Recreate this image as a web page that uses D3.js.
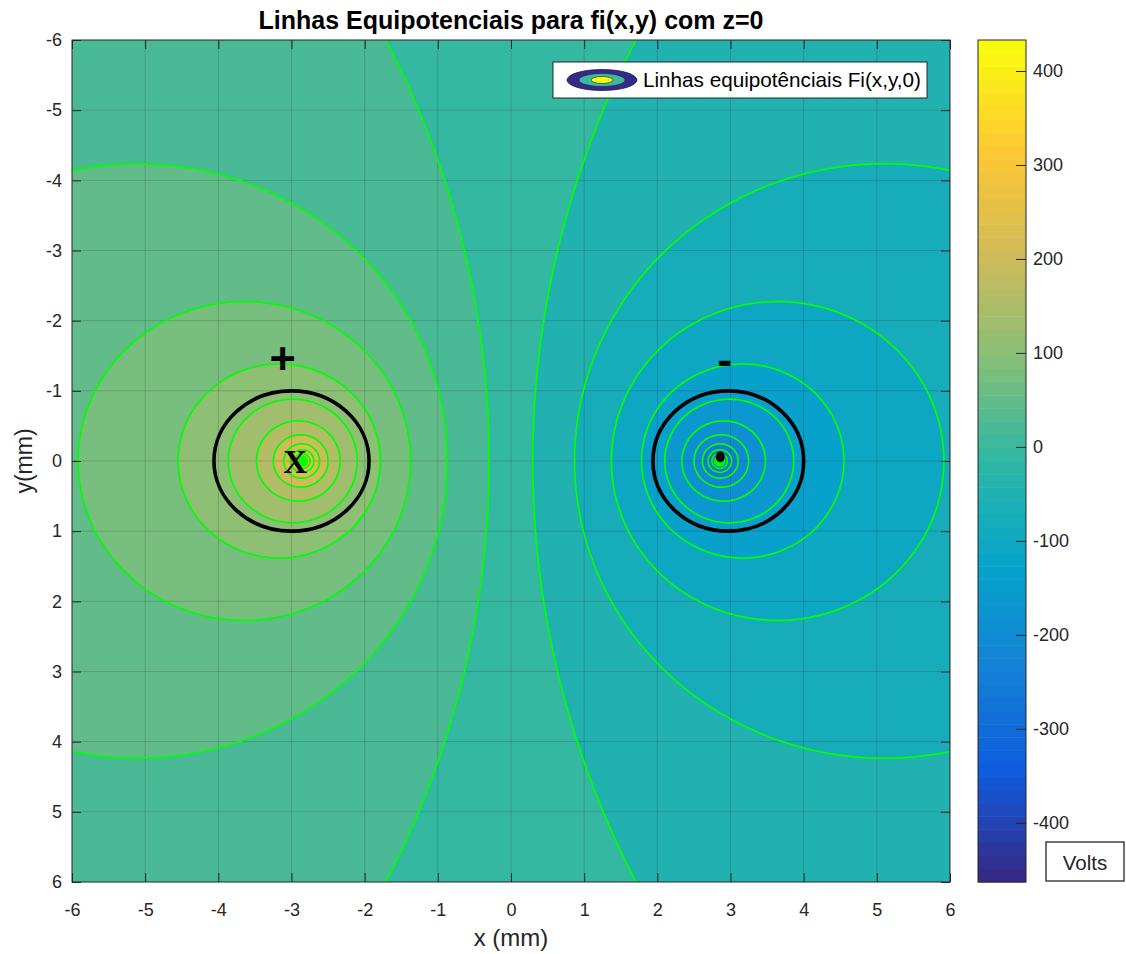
<!DOCTYPE html>
<html>
<head>
<meta charset="utf-8">
<script src="https://cdnjs.cloudflare.com/ajax/libs/d3/7.8.5/d3.min.js"></script>
<style>
body { margin: 0; background: #fff; }
text { font-family: "Liberation Sans", Arial, Helvetica, sans-serif; }
</style>
</head>
<body>
<div class="container"></div>
<script>
let width = 1126;
let height = 954;

// values
const charges = [
    {x: -2.85, y: 0, q: 1},
    {x: 2.85, y: 0, q: -1}
];
const voltsPerLn = 71.4;
const levels = [-435, -405, -375, -345, -315, -285, -255, -225, -195, -165, -135, -105, -75, -45, -15,
    15, 45, 75, 105, 135, 165, 195, 225, 255, 285, 315, 345, 375, 405];
const colorLimits = [-463, 433];
const xTicks = [-6, -5, -4, -3, -2, -1, 0, 1, 2, 3, 4, 5, 6];
const yTicks = [-6, -5, -4, -3, -2, -1, 0, 1, 2, 3, 4, 5, 6];
const cbTicks = [-400, -300, -200, -100, 0, 100, 200, 300, 400];
const rings = [{x: -3, y: 0, rx: 1.06, ry: 1}, {x: 2.97, y: 0, rx: 1.03, ry: 1}];
const signs = [{text: '+', x: -3.12, y: -1.45}, {text: '-', x: 2.92, y: -1.44}];
const xMarks = [{text: 'X', x: -2.95, y: 0.02}];
const chargeDots = [{x: 2.86, y: -0.06}];
const parulaStops = ['#352a87', '#0f5cdd', '#1481d6', '#06a4ca', '#2eb7a4',
    '#87bf77', '#d1bb59', '#fec832', '#f9fb0e'];

const svg = d3.select('.container')
    .append('svg')
    .attr('width', width)
    .attr('height', height);

let plot = {left: 72, right: 950, top: 40, bottom: 882};

let x = d3.scaleLinear().domain([-6, 6]).range([plot.left, plot.right]);
let y = d3.scaleLinear().domain([-6, 6]).range([plot.top, plot.bottom]);

//64 step colormap like matlab
let ramp = d3.piecewise(d3.interpolateRgb, parulaStops);
let colors = d3.range(64).map(i => ramp(i / 63));
let color = d3.scaleQuantize().domain(colorLimits).range(colors);

//potential on a grid a bit larger than the axes
let step = 0.016;
let gMin = -6.3;
let n = Math.round(12.6 / step) + 1;
let values = new Float64Array(n * n);
for (let j = 0; j < n; j++) {
    let gy = gMin + j * step;
    for (let i = 0; i < n; i++) {
        let gx = gMin + i * step;
        let v = 0;
        charges.forEach(c => {
            let r = Math.max(Math.hypot(gx - c.x, gy - c.y), 0.004);
            v += -c.q * voltsPerLn * Math.log(r);
        });
        values[j * n + i] = Math.max(colorLimits[0], Math.min(colorLimits[1], v));
    }
}

let contours = d3.contours().size([n, n]).thresholds(levels)(values);

let gridPath = d3.geoPath(d3.geoTransform({
    point: function(px, py) {
        this.stream.point(x(gMin + (px - 0.5) * step), y(gMin + (py - 0.5) * step));
    }
}));

svg.append('clipPath').attr('id', 'plotclip')
    .append('rect')
    .attr('x', plot.left).attr('y', plot.top)
    .attr('width', plot.right - plot.left).attr('height', plot.bottom - plot.top);

let g = svg.append('g').attr('clip-path', 'url(#plotclip)');

g.append('rect')
    .attr('x', plot.left).attr('y', plot.top)
    .attr('width', plot.right - plot.left).attr('height', plot.bottom - plot.top)
    .attr('fill', color(colorLimits[0]));

g.selectAll('path.band')
    .data(contours)
    .enter()
    .append('path')
    .attr('class', 'band')
    .attr('d', gridPath)
    .attr('fill', d => color(d.value))
    .attr('stroke', 'none');

//grid
g.selectAll('line.gx')
    .data(xTicks.slice(1, -1))
    .enter()
    .append('line')
    .attr('x1', d => x(d)).attr('x2', d => x(d))
    .attr('y1', plot.top).attr('y2', plot.bottom)
    .attr('stroke', '#262626').attr('stroke-opacity', 0.2);
g.selectAll('line.gy')
    .data(yTicks.slice(1, -1))
    .enter()
    .append('line')
    .attr('y1', d => y(d)).attr('y2', d => y(d))
    .attr('x1', plot.left).attr('x2', plot.right)
    .attr('stroke', '#262626').attr('stroke-opacity', 0.2);

//equipotential lines
g.selectAll('path.line')
    .data(contours)
    .enter()
    .append('path')
    .attr('class', 'line')
    .attr('d', gridPath)
    .attr('fill', 'none')
    .attr('stroke', '#00ff00')
    .attr('stroke-width', 1.7);

g.selectAll('ellipse.ring')
    .data(rings)
    .enter()
    .append('ellipse')
    .attr('cx', d => x(d.x)).attr('cy', d => y(d.y))
    .attr('rx', d => x(d.rx) - x(0)).attr('ry', d => y(d.ry) - y(0))
    .attr('fill', 'none')
    .attr('stroke', '#000')
    .attr('stroke-width', 3.6);

g.selectAll('ellipse.dot')
    .data(chargeDots)
    .enter()
    .append('ellipse')
    .attr('cx', d => x(d.x)).attr('cy', d => y(d.y))
    .attr('rx', 4.5).attr('ry', 5.5)
    .attr('fill', '#000');

g.selectAll('text.sign')
    .data(signs)
    .enter()
    .append('text')
    .attr('x', d => x(d.x)).attr('y', d => y(d.y))
    .attr('dy', '0.33em')
    .attr('text-anchor', 'middle')
    .style('font-size', '45px')
    .style('font-weight', 'bold')
    .text(d => d.text);

g.selectAll('text.mark')
    .data(xMarks)
    .enter()
    .append('text')
    .attr('x', d => x(d.x)).attr('y', d => y(d.y))
    .attr('dy', '0.33em')
    .attr('text-anchor', 'middle')
    .style('font-family', '"Liberation Serif", "Times New Roman", serif')
    .style('font-size', '33px')
    .style('font-weight', 'bold')
    .text(d => d.text);

//axes, ticks inward on all sides
let tickFmt = d => String(d);

function styleAxis(sel) {
    sel.select('.domain').remove();
    sel.selectAll('.tick line').attr('stroke', '#262626');
    sel.selectAll('.tick text')
        .attr('fill', '#262626')
        .style('font-size', '18px')
        .style('font-family', '"Liberation Sans", Arial, sans-serif');
}

svg.append('g')
    .attr('transform', 'translate(0,' + plot.bottom + ')')
    .call(d3.axisBottom(x).tickValues(xTicks).tickFormat(tickFmt).tickSizeInner(-9).tickSizeOuter(0).tickPadding(21))
    .call(styleAxis);
svg.append('g')
    .attr('transform', 'translate(0,' + plot.top + ')')
    .call(d3.axisTop(x).tickValues(xTicks).tickSizeInner(-9).tickSizeOuter(0).tickFormat(''))
    .call(styleAxis);
svg.append('g')
    .attr('transform', 'translate(' + plot.left + ',0)')
    .call(d3.axisLeft(y).tickValues(yTicks).tickFormat(tickFmt).tickSizeInner(-9).tickSizeOuter(0).tickPadding(10))
    .call(styleAxis);
svg.append('g')
    .attr('transform', 'translate(' + plot.right + ',0)')
    .call(d3.axisRight(y).tickValues(yTicks).tickSizeInner(-9).tickSizeOuter(0).tickFormat(''))
    .call(styleAxis);

svg.append('rect')
    .attr('x', plot.left).attr('y', plot.top)
    .attr('width', plot.right - plot.left).attr('height', plot.bottom - plot.top)
    .attr('fill', 'none')
    .attr('stroke', '#262626');

//title and labels
svg.append('text')
    .attr('x', (plot.left + plot.right) / 2).attr('y', 29)
    .attr('text-anchor', 'middle')
    .style('font-size', '25px')
    .style('font-weight', 'bold')
    .text('Linhas Equipotenciais para fi(x,y) com z=0');

svg.append('text')
    .attr('x', (plot.left + plot.right) / 2).attr('y', 946)
    .attr('text-anchor', 'middle')
    .attr('fill', '#262626')
    .style('font-size', '24px')
    .text('x (mm)');

svg.append('text')
    .attr('transform', 'translate(32,' + (plot.top + plot.bottom) / 2 + ') rotate(-90)')
    .attr('text-anchor', 'middle')
    .attr('fill', '#262626')
    .style('font-size', '23px')
    .text('y(mm)');

//legend
let legend = svg.append('g');
legend.append('rect')
    .attr('x', 553).attr('y', 62).attr('width', 374).attr('height', 36)
    .attr('fill', '#fff').attr('stroke', '#262626');
legend.append('ellipse').attr('cx', 602).attr('cy', 80).attr('rx', 35).attr('ry', 10.5)
    .attr('fill', colors[0]).attr('stroke', '#1c1c50').attr('stroke-width', 0.8);
legend.append('ellipse').attr('cx', 602).attr('cy', 80).attr('rx', 23).attr('ry', 6.5)
    .attr('fill', color(0)).attr('stroke', '#1c1c50').attr('stroke-width', 0.6);
legend.append('ellipse').attr('cx', 602).attr('cy', 80).attr('rx', 11).attr('ry', 3.5)
    .attr('fill', colors[63]).attr('stroke', '#1c1c50').attr('stroke-width', 0.6);
legend.append('text')
    .attr('x', 643).attr('y', 87)
    .style('font-size', '20.7px')
    .text('Linhas equipotênciais Fi(x,y,0)');

//colorbar
let cb = {left: 978, right: 1026};
let cbY = d3.scaleLinear().domain(colorLimits).range([plot.bottom, plot.top]);
let cbStep = (colorLimits[1] - colorLimits[0]) / colors.length;

svg.append('g').selectAll('rect')
    .data(colors)
    .enter()
    .append('rect')
    .attr('x', cb.left)
    .attr('width', cb.right - cb.left)
    .attr('y', (d, i) => cbY(colorLimits[0] + (i + 1) * cbStep))
    .attr('height', cbY(colorLimits[0]) - cbY(colorLimits[0] + cbStep) + 0.5)
    .attr('fill', d => d);

svg.append('g')
    .attr('transform', 'translate(' + cb.right + ',0)')
    .call(d3.axisRight(cbY).tickValues(cbTicks).tickFormat(tickFmt).tickSizeInner(-10).tickSizeOuter(0).tickPadding(7))
    .call(styleAxis);

svg.append('rect')
    .attr('x', cb.left).attr('y', plot.top)
    .attr('width', cb.right - cb.left).attr('height', plot.bottom - plot.top)
    .attr('fill', 'none').attr('stroke', '#262626');

svg.append('rect')
    .attr('x', 1046).attr('y', 842).attr('width', 78).attr('height', 39)
    .attr('fill', '#fff').attr('stroke', '#262626').attr('stroke-width', 1.3);
svg.append('text')
    .attr('x', 1085).attr('y', 870)
    .attr('text-anchor', 'middle')
    .attr('fill', '#262626')
    .style('font-size', '20.5px')
    .text('Volts');
</script>
</body>
</html>
